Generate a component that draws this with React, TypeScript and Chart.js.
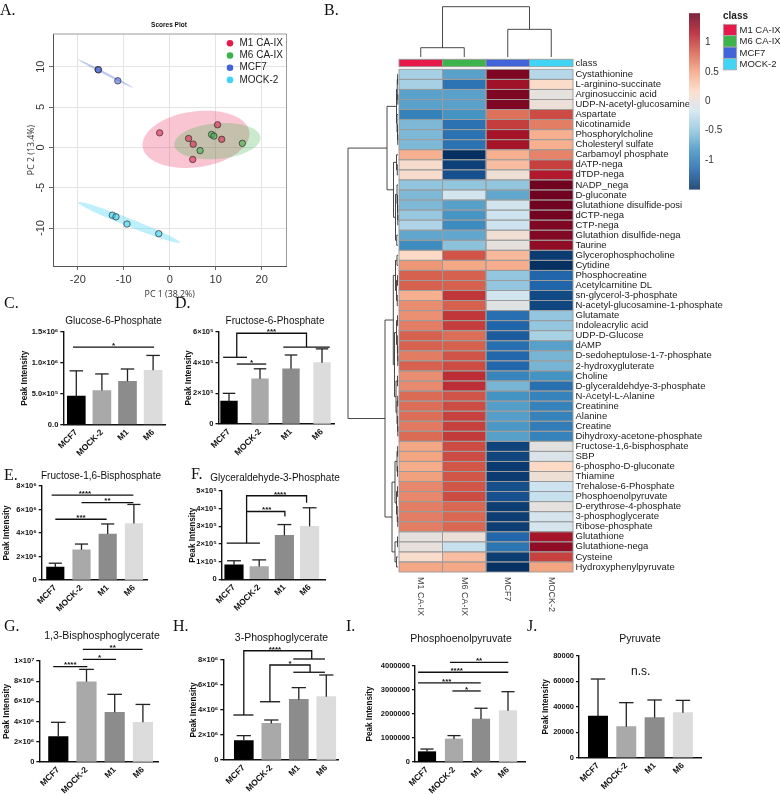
import React, { useEffect, useRef } from 'react';
import { Chart, registerables } from 'chart.js';

Chart.register(...registerables);

const SANS = '"Liberation Sans", Arial, Helvetica, sans-serif';
const SERIF = '"Liberation Serif", "Times New Roman", serif';
Chart.defaults.font.family = SANS;
Chart.defaults.color = '#111';

// ================= Panel A: PCA scores =================
const pcaGroups = ['M1 CA-IX', 'M6 CA-IX', 'MCF7', 'MOCK-2'];
const pcaColors = ['#e6194b', '#3cb44b', '#4363d8', '#42d4f4'];
const pcaPointFill = ['rgba(230,25,75,0.55)', 'rgba(60,180,75,0.55)', 'rgba(67,99,216,0.55)', 'rgba(66,212,244,0.55)'];
const ellipseFill = ['rgba(230,25,75,0.25)', 'rgba(60,180,75,0.28)', 'rgba(67,99,216,0.35)', 'rgba(66,212,244,0.35)'];
const m1PC1 = [-2.2, 4.1, 5.1, 10.4, 11.3, 5.0];
const m1PC2 = [1.8, 1.1, 0.4, 2.8, 1.0, -1.5];
const m6PC1 = [9.1, 9.6, 6.6, 15.8];
const m6PC2 = [1.6, 1.4, -0.4, 0.5];
const mcf7PC1 = [-15.6, -15.5, -11.3];
const mcf7PC2 = [9.65, 9.6, 8.25];
const mockPC1 = [-12.5, -11.7, -9.3, -2.4];
const mockPC2 = [-8.4, -8.6, -9.5, -10.7];
const pcaXTicks = [-20, -10, 0, 10, 20];
const pcaYTicks = [-10, -5, 0, 5, 10];
// 95% ellipses: centre and two half-axis vectors, in PC units
const ellipseCenter = [[5.7, 1.0], [10.35, 0.77], [-14.0, 9.15], [-8.9, -9.3]];
const ellipseAxisU = [[11.6, 0.93], [9.37, 0.47], [6.0, -1.75], [11.1, -2.5]];
const ellipseAxisV = [[0.85, -3.43], [0.35, -2.2], [0.12, 0.13], [0.32, 0.46]];

// ================= Panel B: heatmap =================
const heatColumns = ['M1 CA-IX', 'M6 CA-IX', 'MCF7', 'MOCK-2'];
const classColors = ['#e6194b', '#3cb44b', '#4363d8', '#42d4f4'];
const rowNames = [
  'Cystathionine', 'L-arginino-succinate', 'Arginosuccinic acid', 'UDP-N-acetyl-glucosamine', 'Aspartate',
  'Nicotinamide', 'Phosphorylcholine', 'Cholesteryl sulfate', 'Carbamoyl phosphate', 'dATP-nega',
  'dTDP-nega', 'NADP_nega', 'D-gluconate', 'Glutathione disulfide-posi', 'dCTP-nega',
  'CTP-nega', 'Glutathion disulfide-nega', 'Taurine', 'Glycerophosphocholine', 'Cytidine',
  'Phosphocreatine', 'Acetylcarnitine DL', 'sn-glycerol-3-phosphate', 'N-acetyl-glucosamine-1-phosphate', 'Glutamate',
  'Indoleacrylic acid', 'UDP-D-Glucose', 'dAMP', 'D-sedoheptulose-1-7-phosphate', '2-hydroxygluterate',
  'Choline', 'D-glyceraldehdye-3-phosphate', 'N-Acetyl-L-Alanine', 'Creatinine', 'Alanine',
  'Creatine', 'Dihydroxy-acetone-phosphate', 'Fructose-1,6-bisphosphate', 'SBP', '6-phospho-D-gluconate',
  'Thiamine', 'Trehalose-6-Phosphate', 'Phosphoenolpyruvate', 'D-erythrose-4-phosphate', '3-phosphoglycerate',
  'Ribose-phosphate', 'Glutathione', 'Glutathione-nega', 'Cysteine', 'Hydroxyphenylpyruvate',
];
const heatM1 = [-0.39, -0.39, -0.74, -0.74, -0.97, -0.59, -0.59, -0.59, 0.43, 0.12, 0.12, -0.5, -0.59, -0.59, -0.47, -0.34, -0.71, -0.89, 0.17, 0.57, 0.83, 0.83, 0.43, 0.62, 0.6, 0.69, 0.83, 0.83, 0.7, 0.83, 0.61, 0.63, 0.78, 0.77, 0.77, 0.71, 0.78, 0.49, 0.5, 0.45, 0.52, 0.64, 0.64, 0.69, 0.69, 0.69, -0.02, 0.0, 0.13, 0.48];
const heatM6 = [-0.74, -1.06, -0.74, -0.74, -0.83, -1.08, -1.08, -1.08, -1.5, -1.4, -1.3, -0.5, -0.15, -0.75, -0.82, -0.89, -0.71, -0.52, 0.89, 0.48, 0.83, 0.83, 1.03, 0.83, 1.03, 0.99, 0.77, 0.83, 0.89, 0.93, 1.07, 1.07, 0.89, 0.93, 0.97, 0.98, 1.01, 0.93, 0.93, 0.88, 0.88, 0.88, 0.93, 0.8, 0.8, 0.8, 0.04, -0.22, 0.35, 0.48];
const heatMCF7 = [1.4, 1.25, 1.4, 1.4, 0.75, 0.99, 1.22, 1.22, 0.43, 0.35, 0.05, -0.5, -0.71, -0.16, -0.19, -0.19, 0.06, -0.01, 0.38, 0.45, -0.49, -0.49, -0.16, -0.06, -1.1, -1.18, -1.23, -1.1, -1.16, -1.16, -0.94, -0.61, -0.83, -0.76, -0.76, -0.8, -0.75, -1.38, -1.37, -1.44, -1.43, -1.31, -1.3, -1.42, -1.42, -1.42, -1.16, -1.05, -1.42, -1.49];
const heatMOCK = [-0.31, 0.15, -0.02, 0.03, 0.93, 0.69, 0.43, 0.43, 0.66, 0.98, 1.16, 1.46, 1.46, 1.46, 1.45, 1.4, 1.38, 1.32, -1.43, -1.5, -1.17, -1.17, -1.34, -1.36, -0.49, -0.49, -0.38, -0.75, -0.61, -0.61, -0.83, -1.09, -0.96, -0.96, -0.96, -1.0, -0.96, -0.04, -0.1, 0.17, 0.05, -0.19, -0.22, -0.02, -0.14, -0.14, 1.22, 1.32, 0.97, 0.5];
const heatValues = [heatM1, heatM6, heatMCF7, heatMOCK];
const colorbarTicks = [1, 0.5, 0, -0.5, -1];
const heatPalette = ['#053061', '#2166AC', '#4393C3', '#92C5DE', '#D1E5F0', '#FDDBC7', '#F4A582', '#D6604D', '#B2182B', '#67001F'];
// dendrograms: [height, left, right]; leaves are row/column indices
const colTree: any = [1, [0.185, 0, 1], [0.55, 2, 3]];
const rowTree: any = [1,
  [0.22,
    [0.03, [0.015, [0.008, 0, 1], [0.004, 2, 3]], [0.02, 4, [0.01, 5, [0.005, 6, 7]]]],
    [0.09, [0.03, 8, [0.015, 9, 10]], [0.05, [0.02, 11, [0.01, 12, [0.006, 13, [0.004, 14, 15]]]], [0.025, 16, 17]]]],
  [0.26,
    [0.094,
      [0.05, [0.02, 18, 19], [0.03, [0.01, 20, 21], [0.015, 22, 23]]],
      [0.07, [0.03, [0.01, 24, 25], [0.012, 26, [0.006, 27, [0.004, 28, 29]]]], [0.04, [0.01, 30, 31], [0.02, [0.006, 32, 33], [0.008, 34, [0.004, 35, 36]]]]]],
    [0.12,
      [0.06, [0.02, [0.008, 37, 38], [0.01, 39, 40]], [0.03, [0.01, 41, 42], [0.015, 43, [0.005, 44, 45]]]],
      [0.06, [0.01, 46, 47], [0.03, 48, 49]]]]];

// ================= Panels C-J: bar charts =================
const groups = ['MCF7', 'MOCK-2', 'M1', 'M6'];
const barColors = ['#000000', '#a9a9a9', '#8c8c8c', '#dcdcdc'];

const g6pMean = [4.6e5, 5.5e5, 7.0e5, 8.8e5];
const g6pSD = [4.1e5, 2.7e5, 2.0e5, 2.4e5];
const g6pTicks = [0, 5e5, 1e6, 1.5e6];
const g6pTickLabels = ['0.0', '5.0×10⁵', '1.0×10⁶', '1.5×10⁶'];

const f6pMean = [1.5e5, 2.95e5, 3.6e5, 4.0e5];
const f6pSD = [0.5e5, 0.65e5, 0.9e5, 0.9e5];
const f6pTicks = [0, 2e5, 4e5, 6e5];
const f6pTickLabels = ['0', '2×10⁵', '4×10⁵', '6×10⁵'];

const fbpMean = [1.09e6, 2.57e6, 3.91e6, 4.8e6];
const fbpSD = [0.34e6, 0.49e6, 0.86e6, 1.63e6];
const fbpTicks = [0, 2e6, 4e6, 6e6, 8e6];
const fbpTickLabels = ['0', '2×10⁶', '4×10⁶', '6×10⁶', '8×10⁶'];

const gapMean = [0.82e5, 0.72e5, 2.49e5, 3.0e5];
const gapSD = [0.23e5, 0.38e5, 0.61e5, 1.05e5];
const gapTicks = [0, 1e5, 2e5, 3e5, 4e5, 5e5];
const gapTickLabels = ['0', '1×10⁵', '2×10⁵', '3×10⁵', '4×10⁵', '5×10⁵'];

const bpgMean = [2.51e6, 7.95e6, 4.92e6, 3.93e6];
const bpgSD = [1.42e6, 1.22e6, 1.78e6, 1.77e6];
const bpgTicks = [0, 2e6, 4e6, 6e6, 8e6, 1e7];
const bpgTickLabels = ['0', '2×10⁶', '4×10⁶', '6×10⁶', '8×10⁶', '1×10⁷'];

const pg3Mean = [1.55e6, 2.93e6, 4.85e6, 5.07e6];
const pg3SD = [0.4e6, 0.27e6, 0.94e6, 1.73e6];
const pg3Ticks = [0, 2e6, 4e6, 6e6, 8e6];
const pg3TickLabels = ['0', '2×10⁶', '4×10⁶', '6×10⁶', '8×10⁶'];

const pepMean = [0.43e6, 0.96e6, 1.79e6, 2.14e6];
const pepSD = [0.11e6, 0.14e6, 0.45e6, 0.79e6];
const pepTicks = [0, 1e6, 2e6, 3e6, 4e6];
const pepTickLabels = ['0', '1000000', '2000000', '3000000', '4000000'];

const pyrMean = [32800, 24400, 31500, 35400];
const pyrSD = [29100, 18900, 13900, 9700];
const pyrTicks = [0, 20000, 40000, 60000, 80000];
const pyrTickLabels = ['0', '20000', '40000', '60000', '80000'];

// significance marks (x in group-index units, y in data units)
const g6pSig = [{ kind: 'bar', x1: -0.13, x2: 3.04, y: 1.255e6, text: '*' }];
const f6pSig = [
  { kind: 'path', pts: [[-0.19, 4.35e5], [0.58, 4.35e5]] },
  { kind: 'path', pts: [[0.25, 4.35e5], [0.25, 5.92e5], [2.5, 5.92e5], [2.5, 5.02e5]] },
  { kind: 'path', pts: [[1.75, 5.02e5], [3.25, 5.02e5]] },
  { kind: 'text', x: 1.37, y: 5.92e5, text: '***' },
  { kind: 'bar', x1: 0.25, x2: 1.2, y: 3.91e5, text: '*' },
];
const fbpSig = [
  { kind: 'bar', x1: -0.14, x2: 2.98, y: 7.23e6, text: '****', tx: 1.13 },
  { kind: 'bar', x1: 1.0, x2: 2.98, y: 6.58e6, text: '**' },
  { kind: 'bar', x1: 0, x2: 1.96, y: 5.17e6, text: '***' },
];
const gapSig = [
  { kind: 'path', pts: [[-0.29, 2.05e5], [1.03, 2.05e5]] },
  { kind: 'path', pts: [[0.5, 2.05e5], [0.5, 4.73e5], [2.88, 4.73e5], [2.88, 4.34e5]] },
  { kind: 'text', x: 1.83, y: 4.73e5, text: '****' },
  { kind: 'path', pts: [[0.5, 3.84e5], [2.02, 3.84e5], [2.02, 3.56e5]] },
  { kind: 'text', x: 1.3, y: 3.84e5, text: '***' },
];
const bpgSig = [
  { kind: 'bar', x1: -0.18, x2: 1.03, y: 9.44e6, text: '****' },
  { kind: 'bar', x1: 0.87, x2: 2.05, y: 10.17e6, text: '*' },
  { kind: 'bar', x1: 0.87, x2: 2.99, y: 11.16e6, text: '**' },
];
const pg3Sig = [
  { kind: 'path', pts: [[-0.38, 3.6e6], [0.35, 3.6e6]] },
  { kind: 'path', pts: [[0, 3.6e6], [0, 8.74e6], [2.47, 8.74e6], [2.47, 8.08e6]] },
  { kind: 'path', pts: [[1.8, 8.08e6], [2.95, 8.08e6]] },
  { kind: 'text', x: 1.13, y: 8.74e6, text: '****' },
  { kind: 'path', pts: [[0.59, 4.66e6], [1.32, 4.66e6]] },
  { kind: 'path', pts: [[0.95, 4.66e6], [0.95, 7.6e6], [2.41, 7.6e6], [2.41, 7.02e6]] },
  { kind: 'path', pts: [[1.8, 7.02e6], [2.95, 7.02e6]] },
  { kind: 'text', x: 1.68, y: 7.6e6, text: '*' },
];
const pepSig = [
  { kind: 'bar', x1: 0.85, x2: 3.01, y: 4.15e6, text: '**' },
  { kind: 'bar', x1: -0.33, x2: 3.01, y: 3.74e6, text: '****', tx: 1.1 },
  { kind: 'bar', x1: -0.33, x2: 1.99, y: 3.3e6, text: '***', tx: 0.73 },
  { kind: 'bar', x1: 0.94, x2: 1.99, y: 2.96e6, text: '*' },
];
const pyrSig = [{ kind: 'text', x: 1.51, y: 67700, text: 'n.s.', size: 12, normal: true }];

const barPanels = [
  { id: 'C', means: g6pMean, sd: g6pSD, yTicks: g6pTicks, yLabels: g6pTickLabels, sig: g6pSig, box: [0, 325, 172, 145], L: 63.3, R: 165, T: 332, B: 424.5, c0: 76.3, s: 25.6, bw: 18, ytx: 25 },
  { id: 'D', means: f6pMean, sd: f6pSD, yTicks: f6pTicks, yLabels: f6pTickLabels, sig: f6pSig, box: [172, 325, 178, 145], L: 218.5, R: 334, T: 332, B: 424, c0: 229, s: 31, bw: 16.7, ytx: 188.3 },
  { id: 'E', means: fbpMean, sd: fbpSD, yTicks: fbpTicks, yLabels: fbpTickLabels, sig: fbpSig, box: [0, 478, 172, 152], L: 41.7, R: 147, T: 486, B: 580, c0: 55.3, s: 26.2, bw: 17.5, ytx: 6.7 },
  { id: 'F', means: gapMean, sd: gapSD, yTicks: gapTicks, yLabels: gapTickLabels, sig: gapSig, box: [172, 478, 178, 152], L: 221.7, R: 325, T: 491, B: 579.3, c0: 234, s: 25.2, bw: 18.5, ytx: 192.7 },
  { id: 'G', means: bpgMean, sd: bpgSD, yTicks: bpgTicks, yLabels: bpgTickLabels, sig: bpgSig, box: [0, 640, 172, 154], L: 39.3, R: 158, T: 661, B: 762, c0: 58.3, s: 28.2, bw: 19.5, ytx: 6.7 },
  { id: 'H', means: pg3Mean, sd: pg3SD, yTicks: pg3Ticks, yLabels: pg3TickLabels, sig: pg3Sig, box: [172, 640, 180, 154], L: 223.3, R: 338, T: 660, B: 760, c0: 243.8, s: 27.5, bw: 19, ytx: 193.3 },
  { id: 'I', means: pepMean, sd: pepSD, yTicks: pepTicks, yLabels: pepTickLabels, sig: pepSig, box: [352, 645, 180, 149], L: 415, R: 525, T: 666, B: 762, c0: 427, s: 27, bw: 17.5, ytx: 370 },
  { id: 'J', means: pyrMean, sd: pyrSD, yTicks: pyrTicks, yLabels: pyrTickLabels, sig: pyrSig, box: [532, 645, 248, 149], L: 579, R: 701.7, T: 656, B: 757.7, c0: 598, s: 28.3, bw: 19.3, ytx: 546 },
];

const pageTexts: any[] = [
  { t: 'A.', x: 0, y: 10, size: 16, serif: true, left: true },
  { t: 'B.', x: 324, y: 10, size: 16, serif: true, left: true },
  { t: 'C.', x: 4, y: 302.5, size: 16, serif: true, left: true },
  { t: 'D.', x: 175, y: 302.5, size: 16, serif: true, left: true },
  { t: 'E.', x: 4, y: 475, size: 16, serif: true, left: true },
  { t: 'F.', x: 191, y: 474, size: 16, serif: true, left: true },
  { t: 'G.', x: 4, y: 626, size: 16, serif: true, left: true },
  { t: 'H.', x: 173, y: 626, size: 16, serif: true, left: true },
  { t: 'I.', x: 346, y: 626, size: 16, serif: true, left: true },
  { t: 'J.', x: 527, y: 626, size: 16, serif: true, left: true },
  { t: 'Scores Plot', x: 169, y: 25, size: 6.5, bold: true },
  { t: 'Glucose-6-Phosphate', x: 113.5, y: 321, size: 10 },
  { t: 'Fructose-6-Phosphate', x: 275, y: 321, size: 10 },
  { t: 'Fructose-1,6-Bisphosphate', x: 101, y: 476, size: 10 },
  { t: 'Glyceraldehyde-3-Phosphate', x: 275, y: 478, size: 10 },
  { t: '1,3-Bisphosphoglycerate', x: 102, y: 635, size: 10.5 },
  { t: '3-Phosphoglycerate', x: 281.5, y: 637, size: 10.5 },
  { t: 'Phosphoenolpyruvate', x: 461, y: 638, size: 10.5 },
  { t: 'Pyruvate', x: 640, y: 638, size: 10.5 },
];

// ================= helpers / plugins =================
function hexToRgb(h: string) {
  const n = parseInt(h.slice(1), 16);
  return [(n >> 16) & 255, (n >> 8) & 255, n & 255];
}
const palRgb = heatPalette.map(hexToRgb);
function heatColor(v: number) {
  const t = Math.max(0, Math.min(1, (v + 1.5) / 3)) * (palRgb.length - 1);
  const i = Math.min(Math.floor(t), palRgb.length - 2);
  const f = t - i;
  const a = palRgb[i], b = palRgb[i + 1];
  return `rgb(${Math.round(a[0] + (b[0] - a[0]) * f)},${Math.round(a[1] + (b[1] - a[1]) * f)},${Math.round(a[2] + (b[2] - a[2]) * f)})`;
}

function line(ctx: any, x1: number, y1: number, x2: number, y2: number) {
  ctx.beginPath();
  ctx.moveTo(x1, y1);
  ctx.lineTo(x2, y2);
  ctx.stroke();
}

const ellipsePlugin = {
  id: 'ellipses',
  beforeDatasetsDraw(chart: any) {
    const { ctx } = chart;
    const xs = chart.scales.x, ys = chart.scales.y;
    ctx.save();
    ellipseCenter.forEach((c, g) => {
      const u = ellipseAxisU[g], v = ellipseAxisV[g];
      ctx.beginPath();
      for (let k = 0; k <= 90; k++) {
        const t = (k / 90) * Math.PI * 2;
        const px = xs.getPixelForValue(c[0] + u[0] * Math.cos(t) + v[0] * Math.sin(t));
        const py = ys.getPixelForValue(c[1] + u[1] * Math.cos(t) + v[1] * Math.sin(t));
        if (k === 0) ctx.moveTo(px, py); else ctx.lineTo(px, py);
      }
      ctx.closePath();
      ctx.fillStyle = ellipseFill[g];
      ctx.fill();
    });
    ctx.restore();
  },
};

const pcaLegendPlugin = {
  id: 'pcaLegend',
  afterDraw(chart: any) {
    const { ctx, chartArea: ca } = chart;
    ctx.save();
    ctx.strokeStyle = '#9a9a9a';
    ctx.lineWidth = 1;
    line(ctx, ca.left, ca.top, ca.right, ca.top);
    line(ctx, ca.right, ca.top, ca.right, ca.bottom);
    ctx.font = `10px ${SANS}`;
    ctx.textBaseline = 'middle';
    ctx.textAlign = 'left';
    pcaGroups.forEach((g, i) => {
      const y = ca.top + 9.3 + i * 12.2;
      const x = ca.right - 56.5;
      ctx.fillStyle = pcaColors[i];
      ctx.beginPath();
      ctx.arc(x, y, 3.3, 0, Math.PI * 2);
      ctx.fill();
      ctx.fillStyle = '#222';
      ctx.fillText(g, x + 9.5, y);
    });
    ctx.restore();
  },
};

const heatmapPlugin = {
  id: 'heatmap',
  afterDraw(chart: any) {
    const { ctx, chartArea: ca } = chart;
    const xs = chart.scales.x, ys = chart.scales.y;
    const cw = ca.width / heatColumns.length;
    const rh = ca.height / rowNames.length;
    ctx.save();
    ctx.lineWidth = 0.9;
    ctx.strokeStyle = '#9c9c9c';
    heatValues.forEach((col, c) => {
      const x0 = xs.getPixelForValue(c) - cw / 2;
      col.forEach((v, r) => {
        const y0 = ys.getPixelForValue(r) - rh / 2;
        ctx.fillStyle = heatColor(v);
        ctx.fillRect(x0, y0, cw, rh);
      });
    });
    heatValues.forEach((col, c) => {
      const x0 = xs.getPixelForValue(c) - cw / 2;
      col.forEach((_v, r) => {
        const y0 = ys.getPixelForValue(r) - rh / 2;
        ctx.strokeRect(x0, y0, cw, rh);
      });
      // class annotation bar
      ctx.fillStyle = classColors[c];
      ctx.fillRect(x0, ca.top - 10, cw, 7.4);
      ctx.strokeRect(x0, ca.top - 10, cw, 7.4);
    });
    ctx.fillStyle = '#1a1a1a';
    ctx.font = `9.5px ${SANS}`;
    ctx.textAlign = 'left';
    ctx.textBaseline = 'middle';
    ctx.fillText('class', ca.right + 2.5, ca.top - 6.3);
    // column labels (rotated)
    ctx.font = `9px ${SANS}`;
    ctx.fillStyle = '#444';
    heatColumns.forEach((name, c) => {
      ctx.save();
      ctx.translate(xs.getPixelForValue(c), ca.bottom + 5);
      ctx.rotate(Math.PI / 2);
      ctx.fillText(name, 0, 0);
      ctx.restore();
    });
    // dendrograms
    ctx.strokeStyle = '#333';
    ctx.lineWidth = 0.9;
    const leafX = ca.left - 1;
    const rowW = 50;
    const walkRow = (node: any): any => {
      if (typeof node === 'number') return { y: ys.getPixelForValue(node), x: leafX };
      const [h, a, b] = node;
      const A = walkRow(a), B = walkRow(b);
      const x = leafX - h * rowW;
      line(ctx, x, A.y, x, B.y);
      line(ctx, x, A.y, A.x, A.y);
      line(ctx, x, B.y, B.x, B.y);
      return { y: (A.y + B.y) / 2, x };
    };
    walkRow(rowTree);
    const leafY = ca.top - 12.3;
    const colH = 50.3;
    const walkCol = (node: any): any => {
      if (typeof node === 'number') return { x: xs.getPixelForValue(node), y: leafY };
      const [h, a, b] = node;
      const A = walkCol(a), B = walkCol(b);
      const y = leafY - h * colH;
      line(ctx, A.x, y, B.x, y);
      line(ctx, A.x, y, A.x, A.y);
      line(ctx, B.x, y, B.x, B.y);
      return { x: (A.x + B.x) / 2, y };
    };
    walkCol(colTree);
    // colour key
    const cbL = 389, cbW = 11, cbT = 13.3, cbH = 176;
    for (let py = 0; py < cbH; py++) {
      ctx.fillStyle = heatColor(1.5 - ((py + 0.5) / cbH) * 3);
      ctx.fillRect(cbL, cbT + py, cbW, 1.2);
    }
    ctx.fillStyle = '#333';
    ctx.font = `10px ${SANS}`;
    colorbarTicks.forEach((v) => {
      ctx.fillText(String(v), cbL + 16, cbT + ((1.5 - v) / 3) * cbH);
    });
    // class legend
    ctx.font = `bold 10px ${SANS}`;
    ctx.fillStyle = '#222';
    ctx.fillText('class', 423, 16);
    ctx.font = `9.5px ${SANS}`;
    ctx.strokeStyle = '#aaa';
    ctx.lineWidth = 0.8;
    heatColumns.forEach((name, c) => {
      const y0 = 24.3 + c * 11.4;
      ctx.fillStyle = classColors[c];
      ctx.fillRect(423.3, y0, 13.4, 11.4);
      ctx.strokeRect(423.3, y0, 13.4, 11.4);
      ctx.fillStyle = '#222';
      ctx.fillText(name, 439.5, y0 + 5.9);
    });
    ctx.restore();
  },
};

function errorBarPlugin(sd: number[], cap: number) {
  return {
    id: 'errorBars',
    afterDatasetsDraw(chart: any) {
      const { ctx } = chart;
      const ys = chart.scales.y;
      const meta = chart.getDatasetMeta(0);
      const data = chart.data.datasets[0].data;
      ctx.save();
      ctx.strokeStyle = '#222';
      ctx.lineWidth = 1.3;
      meta.data.forEach((el: any, i: number) => {
        const top = ys.getPixelForValue(data[i].y + sd[i]);
        line(ctx, el.x, el.y, el.x, top);
        line(ctx, el.x - cap / 2, top, el.x + cap / 2, top);
      });
      ctx.restore();
    },
  };
}

function sigPlugin(items: any[]) {
  return {
    id: 'sig',
    afterDraw(chart: any) {
      const { ctx } = chart;
      const X = (v: number) => chart.scales.x.getPixelForValue(v);
      const Y = (v: number) => chart.scales.y.getPixelForValue(v);
      ctx.save();
      ctx.strokeStyle = '#111';
      ctx.fillStyle = '#111';
      ctx.lineWidth = 1.3;
      ctx.textAlign = 'center';
      for (const it of items) {
        if (it.kind === 'bar') {
          line(ctx, X(it.x1), Y(it.y), X(it.x2), Y(it.y));
          ctx.font = `bold 8px ${SANS}`;
          ctx.textBaseline = 'alphabetic';
          ctx.fillText(it.text, X(it.tx ?? (it.x1 + it.x2) / 2), Y(it.y) + 0.8);
        } else if (it.kind === 'path') {
          ctx.beginPath();
          it.pts.forEach((p: number[], k: number) => {
            if (k === 0) ctx.moveTo(X(p[0]), Y(p[1])); else ctx.lineTo(X(p[0]), Y(p[1]));
          });
          ctx.stroke();
        } else {
          if (it.normal) {
            ctx.font = `${it.size}px ${SANS}`;
            ctx.textBaseline = 'middle';
            ctx.fillText(it.text, X(it.x), Y(it.y));
          } else {
            ctx.font = `bold 8px ${SANS}`;
            ctx.textBaseline = 'alphabetic';
            ctx.fillText(it.text, X(it.x), Y(it.y) + 0.8);
          }
        }
      }
      ctx.restore();
    },
  };
}

// ================= chart configs =================
function pcaConfig() {
  const mk = (xs: number[], ys: number[]) => xs.map((x, i) => ({ x, y: ys[i] }));
  const series = [mk(m1PC1, m1PC2), mk(m6PC1, m6PC2), mk(mcf7PC1, mcf7PC2), mk(mockPC1, mockPC2)];
  return {
    type: 'scatter',
    data: {
      datasets: series.map((d, g) => ({
        label: pcaGroups[g], data: d, backgroundColor: pcaPointFill[g], borderColor: '#2a2a2a', borderWidth: 0.7, pointRadius: 3.2,
      })),
    },
    options: {
      animation: false, responsive: false, maintainAspectRatio: false, events: [],
      layout: { padding: { left: 0, top: 34, right: 13.5, bottom: 0 } },
      plugins: { legend: { display: false }, tooltip: { enabled: false } },
      scales: {
        x: {
          type: 'linear', min: -25.4, max: 25.4,
          afterBuildTicks: (s: any) => { s.ticks = pcaXTicks.map((v) => ({ value: v })); },
          afterFit: (s: any) => { s.height = 44; },
          grid: { color: '#e4e4e4', tickColor: '#666', tickLength: 4 },
          border: { color: '#555', width: 1 },
          ticks: { color: '#333', font: { size: 11 }, padding: 3, callback: (v: number) => String(v) },
          title: { display: true, text: 'PC 1 (38.2%)', color: '#333', font: { size: 8.8, family: '"Open Sans", sans-serif' }, padding: { top: 0, bottom: 9.8 } },
        },
        y: {
          type: 'linear', min: -14.7, max: 14.05,
          afterBuildTicks: (s: any) => { s.ticks = pcaYTicks.map((v) => ({ value: v })); },
          afterFit: (s: any) => { s.width = 53; },
          grid: { color: '#e4e4e4', tickColor: '#666', tickLength: 4 },
          border: { color: '#555', width: 1 },
          ticks: { color: '#333', font: { size: 11 }, padding: 0, minRotation: 90, maxRotation: 90, crossAlign: 'center', callback: (v: number) => String(v) },
          title: { display: true, text: 'PC 2 (13.4%)', color: '#333', font: { size: 8.8, family: '"Open Sans", sans-serif' }, padding: { top: 26.4, bottom: 0 } },
        },
      },
    },
    plugins: [ellipsePlugin, pcaLegendPlugin],
  };
}

function heatConfig() {
  return {
    type: 'scatter',
    data: { datasets: [] },
    options: {
      animation: false, responsive: false, maintainAspectRatio: false, events: [],
      layout: { padding: { left: 99, top: 69.3, right: 0, bottom: 53 } },
      plugins: { legend: { display: false }, tooltip: { enabled: false } },
      scales: {
        x: { type: 'category', labels: heatColumns, offset: true, display: false },
        y: {
          type: 'category', labels: rowNames, offset: true, position: 'right',
          afterFit: (s: any) => { s.width = 207; },
          grid: { display: false, drawTicks: false },
          border: { display: false },
          ticks: { autoSkip: false, padding: 2.5, color: '#1a1a1a', font: { size: 9.5 } },
        },
      },
    },
    plugins: [heatmapPlugin],
  };
}

function barConfig(p: any) {
  const [bx, by, bw, bh] = p.box;
  const xMin = (p.L - p.c0) / p.s;
  const xMax = (p.R - p.c0) / p.s;
  const yMax = p.yTicks[p.yTicks.length - 1];
  return {
    type: 'bar',
    data: {
      datasets: [{
        data: p.means.map((v: number, i: number) => ({ x: i, y: v })),
        backgroundColor: barColors, borderWidth: 0, barThickness: p.bw,
      }],
    },
    options: {
      animation: false, responsive: false, maintainAspectRatio: false, events: [],
      layout: { padding: { left: 0, top: p.T - by, right: bx + bw - p.R, bottom: 0 } },
      plugins: { legend: { display: false }, tooltip: { enabled: false } },
      scales: {
        x: {
          type: 'linear', min: xMin, max: xMax, offset: false,
          afterBuildTicks: (s: any) => { s.ticks = groups.map((_g, i) => ({ value: i })); },
          afterFit: (s: any) => { s.height = by + bh - p.B; },
          grid: { display: false, drawTicks: false },
          border: { display: true, color: '#111', width: 1.4 },
          ticks: { autoSkip: false, minRotation: 45, maxRotation: 45, padding: 3, color: '#111', font: { size: 8.5, weight: 'bold' }, callback: (v: number) => groups[v] },
        },
        y: {
          type: 'linear', min: 0, max: yMax,
          afterBuildTicks: (s: any) => { s.ticks = p.yTicks.map((v: number) => ({ value: v })); },
          afterFit: (s: any) => { s.width = p.L - bx; },
          grid: { display: true, drawOnChartArea: false, drawTicks: true, tickLength: 3, color: '#111', lineWidth: 1.3 },
          border: { display: true, color: '#111', width: 1.4 },
          ticks: { autoSkip: false, padding: 2, color: '#111', font: { size: 7.5, weight: 'bold' }, callback: (_v: number, i: number) => p.yLabels[i] },
          title: { display: true, text: 'Peak Intensity', color: '#111', font: { size: 8.2, weight: 'bold' }, padding: { top: Math.max(0, p.ytx - bx - 4.92), bottom: 0 } },
        },
      },
    },
    plugins: [errorBarPlugin(p.sd, p.bw * 0.75), sigPlugin(p.sig)],
  };
}

// ================= components =================
function ChartBox({ box, make }: { box: number[]; make: () => any }) {
  const ref = useRef<HTMLCanvasElement>(null);
  useEffect(() => {
    const chart = new Chart(ref.current as HTMLCanvasElement, make());
    return () => chart.destroy();
  }, []);
  return (
    <canvas
      ref={ref}
      width={box[2]}
      height={box[3]}
      style={{ position: 'absolute', left: box[0], top: box[1], width: box[2], height: box[3] }}
    />
  );
}

export default function App() {
  return (
    <div style={{ position: 'absolute', left: 0, top: 0, width: 780, height: 794, background: '#fff', overflow: 'hidden' }}>
      <ChartBox box={[0, 0, 300, 310]} make={pcaConfig} />
      {barPanels.map((p) => (
        <ChartBox key={p.id} box={p.box} make={() => barConfig(p)} />
      ))}
      <ChartBox box={[300, 0, 480, 625]} make={heatConfig} />
      {pageTexts.map((t, i) => (
        <div
          key={i}
          style={{
            position: 'absolute', left: t.x, top: t.y,
            transform: t.left ? 'translate(0,-50%)' : 'translate(-50%,-50%)',
            fontFamily: t.serif ? SERIF : SANS, fontSize: t.size, fontWeight: t.bold ? 'bold' : 'normal',
            lineHeight: 1, whiteSpace: 'nowrap', color: '#111',
          }}
        >
          {t.t}
        </div>
      ))}
    </div>
  );
}
